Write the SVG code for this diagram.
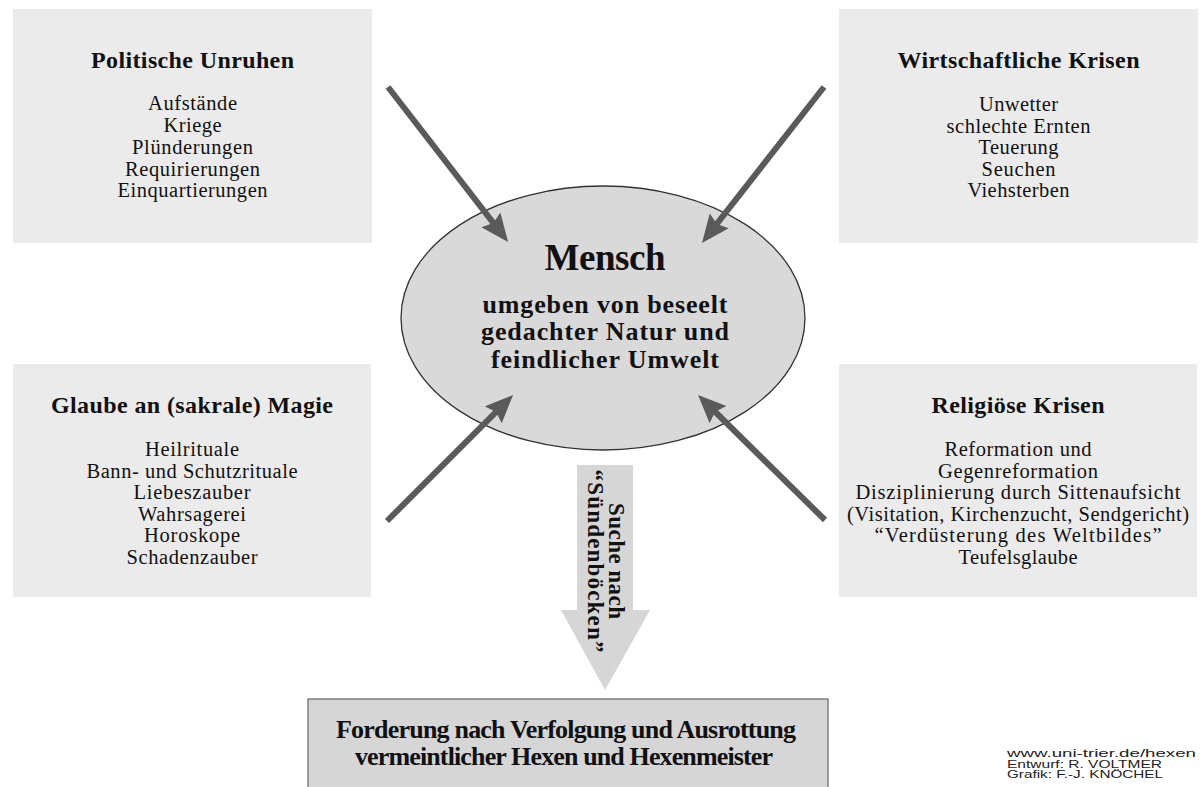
<svg xmlns="http://www.w3.org/2000/svg" width="1204" height="787" viewBox="0 0 1204 787">
<style>
.box{fill:#ebebeb}
.t{font-family:"Liberation Serif","Times New Roman",serif;fill:#111;text-anchor:middle}
.ti{font-size:24px;font-weight:bold}
.bd{font-size:20.5px}
.eb{font-weight:bold}
.conn{stroke:#5a5a5a;stroke-width:6;fill:none}
.cr{font-family:"Liberation Sans",Arial,sans-serif;font-size:11px;fill:#222}
</style>
<defs>
<marker id="ah" markerUnits="userSpaceOnUse" markerWidth="30" markerHeight="26" viewBox="0 0 30 26" refX="8" refY="12" orient="auto">
<path d="M0,0 L28,12 L0,24 L4,12 z" fill="#5a5a5a"/>
</marker>
</defs>
<rect width="1204" height="787" fill="#ffffff"/>

<g id="politische">
<rect class="box" x="13" y="9" width="359" height="234"/>
<text class="t ti" x="192.5" y="68" textLength="203">Politische Unruhen</text>
<text class="t bd" x="192.5" y="110" textLength="89">Aufstände</text>
<text class="t bd" x="192.5" y="132" textLength="58">Kriege</text>
<text class="t bd" x="192.5" y="154" textLength="121">Plünderungen</text>
<text class="t bd" x="192.5" y="176" textLength="135">Requirierungen</text>
<text class="t bd" x="192.5" y="197" textLength="150">Einquartierungen</text>
</g>

<g id="wirtschaft">
<rect class="box" x="839" y="9" width="359" height="234"/>
<text class="t ti" x="1018.5" y="68" textLength="242">Wirtschaftliche Krisen</text>
<text class="t bd" x="1018.5" y="111" textLength="79">Unwetter</text>
<text class="t bd" x="1018.5" y="133" textLength="144">schlechte Ernten</text>
<text class="t bd" x="1018.5" y="154" textLength="80">Teuerung</text>
<text class="t bd" x="1018.5" y="176" textLength="74">Seuchen</text>
<text class="t bd" x="1018.5" y="197" textLength="102">Viehsterben</text>
</g>

<g id="magie">
<rect class="box" x="13" y="364" width="358" height="233"/>
<text class="t ti" x="192" y="413" textLength="282">Glaube an (sakrale) Magie</text>
<text class="t bd" x="192" y="456" textLength="94">Heilrituale</text>
<text class="t bd" x="192" y="477.5" textLength="211">Bann- und Schutzrituale</text>
<text class="t bd" x="192" y="499" textLength="117">Liebeszauber</text>
<text class="t bd" x="192" y="520.5" textLength="108">Wahrsagerei</text>
<text class="t bd" x="192" y="542" textLength="96">Horoskope</text>
<text class="t bd" x="192" y="563.5" textLength="131">Schadenzauber</text>
</g>

<g id="religion">
<rect class="box" x="839" y="364" width="358" height="233"/>
<text class="t ti" x="1018" y="413" textLength="173">Religiöse Krisen</text>
<text class="t bd" x="1018" y="456" textLength="147">Reformation und</text>
<text class="t bd" x="1018" y="477.5" textLength="160">Gegenreformation</text>
<text class="t bd" x="1018" y="499" textLength="325">Disziplinierung durch Sittenaufsicht</text>
<text class="t bd" x="1018" y="520.5" textLength="342">(Visitation, Kirchenzucht, Sendgericht)</text>
<text class="t bd" x="1018" y="542" textLength="287">“Verdüsterung des Weltbildes”</text>
<text class="t bd" x="1018" y="563.5" textLength="119">Teufelsglaube</text>
</g>

<g id="mensch">
<ellipse cx="603" cy="318" rx="202" ry="132" fill="#d9d9d9" stroke="#333" stroke-width="1.3"/>
<text class="t eb" x="605" y="270" font-size="37" textLength="121">Mensch</text>
<text class="t eb" x="605" y="313" font-size="26" textLength="245">umgeben von beseelt</text>
<text class="t eb" x="605" y="340" font-size="26" textLength="248">gedachter Natur und</text>
<text class="t eb" x="605" y="368" font-size="26" textLength="228">feindlicher Umwelt</text>
</g>

<g id="suche">
<polygon points="577,465 633,465 633,610 650,610 605,690 561,610 577,610" fill="#d6d6d6"/>
<g transform="translate(609,561) rotate(90)">
<text class="t eb" x="0" y="0" font-size="23" textLength="116">Suche nach</text>
<text class="t eb" x="0" y="21" font-size="23" textLength="183">“Sündenböcken”</text>
</g>
</g>

<g id="forderung">
<rect x="308" y="699" width="520" height="100" fill="#d6d6d6" stroke="#808080" stroke-width="1.5"/>
<text class="t eb" x="566" y="738" font-size="26" textLength="460">Forderung nach Verfolgung und Ausrottung</text>
<text class="t eb" x="564" y="765" font-size="26" textLength="418">vermeintlicher Hexen und Hexenmeister</text>
</g>

<g id="connectors">
<line class="conn" x1="388" y1="87" x2="495.8" y2="226.2" marker-end="url(#ah)"/>
<line class="conn" x1="824" y1="87" x2="714.3" y2="227.2" marker-end="url(#ah)"/>
<line class="conn" x1="387" y1="521" x2="498.9" y2="409.1" marker-end="url(#ah)"/>
<line class="conn" x1="825" y1="520" x2="712.3" y2="409" marker-end="url(#ah)"/>
</g>

<g id="credits">
<text class="cr" x="1007" y="757" textLength="189" lengthAdjust="spacingAndGlyphs">www.uni-trier.de/hexen</text>
<text class="cr" x="1007" y="767.5" textLength="155" lengthAdjust="spacingAndGlyphs">Entwurf: R. VOLTMER</text>
<text class="cr" x="1007" y="778" textLength="156" lengthAdjust="spacingAndGlyphs">Grafik: F.-J. KNÖCHEL</text>
</g>
</svg>
